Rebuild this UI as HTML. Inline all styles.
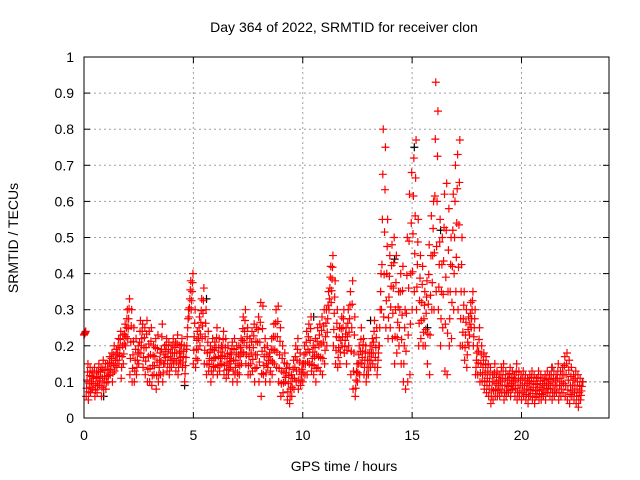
<!DOCTYPE html>
<html><head><meta charset="utf-8"><style>
body{margin:0;background:#fff;}
svg{display:block;font-family:"Liberation Sans",sans-serif;}
</style></head><body>
<svg id="chart" width="640" height="480" viewBox="0 0 640 480"></svg>
<script>
const xTicks=[0,5,10,15,20];
const yTicks=[0,0.1,0.2,0.3,0.4,0.5,0.6,0.7,0.8,0.9,1];
const yTickLabels=["0","0.1","0.2","0.3","0.4","0.5","0.6","0.7","0.8","0.9","1"];
const tStart=0, tStep=0.1;
const hiVals=[.24,.15,.14,.13,.14,.13,.15,.14,.16,.15,
.15,.17,.18,.2,.19,.22,.24,.23,.26,.3,
.33,.3,.25,.22,.2,.27,.26,.25,.27,.24,
.25,.2,.22,.23,.18,.26,.2,.22,.21,.2,
.22,.21,.23,.2,.22,.2,.19,.3,.38,.4,
.3,.24,.28,.33,.36,.3,.24,.2,.22,.21,
.25,.22,.2,.24,.22,.2,.18,.21,.22,.2,
.2,.22,.28,.3,.25,.22,.24,.26,.25,.28,
.32,.31,.22,.2,.18,.22,.26,.3,.31,.25,
.2,.18,.15,.14,.12,.16,.2,.22,.18,.15,
.2,.24,.26,.28,.2,.22,.25,.26,.28,.3,
.3,.35,.42,.45,.38,.3,.25,.28,.3,.25,
.3,.35,.38,.28,.15,.2,.25,.22,.2,.18,
.2,.22,.27,.25,.2,.4,.8,.75,.55,.45,
.48,.5,.45,.35,.4,.42,.3,.5,.62,.68,
.72,.77,.55,.45,.42,.35,.38,.48,.56,.6,
.93,.85,.55,.5,.62,.65,.58,.5,.62,.7,
.73,.77,.5,.35,.3,.28,.32,.35,.3,.2,
.25,.2,.18,.17,.15,.14,.12,.15,.13,.12,
.14,.15,.13,.12,.14,.13,.12,.15,.13,.12,
.13,.12,.11,.12,.13,.12,.11,.13,.12,.11,
.12,.13,.12,.14,.13,.12,.15,.13,.14,.17,
.18,.16,.14,.12,.13,.12,.11,.1];
const loVals=[.23,.06,.05,.07,.08,.06,.07,.09,.06,.08,
.08,.1,.12,.1,.13,.14,.15,.11,.15,.2,
.22,.12,.1,.1,.12,.15,.18,.14,.12,.1,
.1,.09,.12,.08,.1,.12,.1,.15,.13,.12,
.14,.15,.13,.12,.15,.14,.1,.2,.28,.3,
.15,.14,.16,.2,.22,.15,.12,.13,.1,.12,
.14,.12,.13,.15,.12,.11,.12,.14,.1,.12,
.1,.12,.15,.18,.15,.12,.12,.13,.1,.14,
.1,.06,.12,.1,.14,.1,.12,.15,.14,.1,
.06,.07,.1,.05,.04,.06,.08,.1,.08,.09,
.1,.12,.12,.15,.13,.12,.1,.14,.13,.12,
.15,.2,.3,.32,.2,.15,.14,.15,.2,.18,
.15,.2,.12,.08,.06,.1,.12,.15,.12,.1,
.12,.14,.15,.14,.12,.2,.3,.28,.25,.22,
.25,.22,.15,.18,.2,.15,.1,.08,.1,.12,
.3,.35,.3,.2,.22,.2,.2,.15,.12,.3,
.3,.35,.3,.2,.25,.13,.12,.2,.22,.3,
.35,.3,.2,.2,.16,.14,.2,.25,.2,.12,
.12,.1,.1,.08,.07,.06,.04,.05,.06,.06,
.06,.07,.05,.06,.07,.06,.08,.06,.05,.06,
.05,.06,.05,.04,.06,.05,.04,.06,.05,.05,
.06,.05,.07,.06,.05,.06,.07,.05,.06,.07,
.06,.05,.04,.06,.05,.04,.03,.05];
const blackT=[0.9,4.6,5.6,10.5,13.1,14.2,15.1,15.7,16.3,21.4,22.8];
const blackV=[0.06,0.09,0.33,0.28,0.27,0.44,0.75,0.25,0.52,0.14,0.1];

const L=84,R=609,T=57,B=418;
const xs=v=>L+(v-0)/24*(R-L);
const ys=v=>B-v*(B-T);
const svg=document.getElementById('chart');
const NS='http://www.w3.org/2000/svg';
function mk(tag,attrs){const e=document.createElementNS(NS,tag);for(const k in attrs)e.setAttribute(k,attrs[k]);svg.appendChild(e);return e;}

yTicks.forEach((v,i)=>{
  const y=ys(v);
  if(v>0&&v<1){const g=mk('line',{x1:L,x2:R,y1:y,y2:y,stroke:'#a0a0a0','stroke-dasharray':'2,3'});
  
  }
  mk('line',{x1:L,x2:L+6,y1:y,y2:y,stroke:'#000'});
  mk('line',{x1:R,x2:R-6,y1:y,y2:y,stroke:'#000'});
  const t=mk('text',{x:L-10,y:y+5,'text-anchor':'end','font-size':14,fill:'#000'});
  t.textContent=yTickLabels[i];
  
  
});
xTicks.forEach(v=>{
  const x=xs(v);
  if(v>0){const g=mk('line',{x1:x,x2:x,y1:T,y2:B,stroke:'#a0a0a0','stroke-dasharray':'2,3'});
  
  }
  mk('line',{x1:x,x2:x,y1:B,y2:B-6,stroke:'#000'});
  mk('line',{x1:x,x2:x,y1:T,y2:T+6,stroke:'#000'});
  const t=mk('text',{x:x,y:B+22,'text-anchor':'middle','font-size':14,fill:'#000'});
  t.textContent=String(v);
  
  
});

function plus(t,v,color,name){
  const x=xs(t),y=ys(v);
  const p=mk('path',{d:`M${x-4},${y}H${x+4}M${x},${y-4}V${y+4}`,stroke:color,'stroke-width':1.2,fill:'none'});
  
  
}
blackT.forEach((t,i)=>plus(t,blackV[i],'#000','black-point'));
hiVals.forEach((h,i)=>{
  const t=tStart+i*tStep;
  const lo=loVals[i];
  const fr=[0,0.25,0.5,0.75,1];
  fr.forEach((f,j)=>plus(t+j*0.02,lo+(h-lo)*f,'#f00','srmtid-point'));
});

const frame=mk('rect',{x:L,y:T,width:R-L,height:B-T,fill:'none',stroke:'#000','stroke-width':1});



const title=mk('text',{x:344,y:32,'text-anchor':'middle','font-size':14,fill:'#000'});
title.textContent='Day 364 of 2022, SRMTID for receiver clon';


const xl=mk('text',{x:344,y:471,'text-anchor':'middle','font-size':14,fill:'#000'});
xl.textContent='GPS time / hours';


const yl=mk('text',{x:0,y:0,'text-anchor':'middle','font-size':14,fill:'#000',transform:'translate(18,238) rotate(-90)'});
yl.textContent='SRMTID / TECUs';


</script>
</body></html>
